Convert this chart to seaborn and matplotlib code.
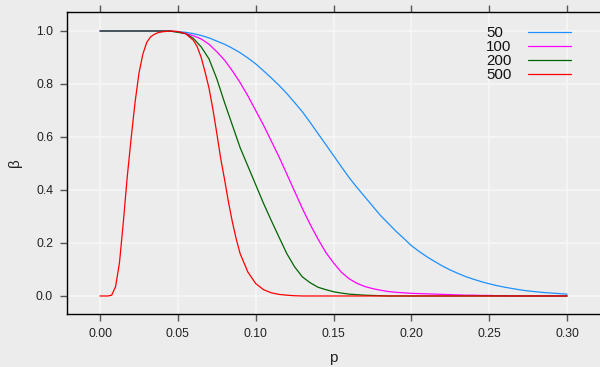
import numpy as np
import pandas as pd
import matplotlib
matplotlib.use("Agg")
import matplotlib.pyplot as plt
import seaborn as sns

# OC curves: beta against p for four sample sizes
sizes = ["50", "100", "200", "500"]
colors = ["#1E90FF", "#FF00FF", "#006400", "#FF0000"]

p_grid = np.round(np.arange(0, 0.3001, 0.005), 3)  # 0.000 ... 0.300

beta_50 = [1, 1, 1, 1, 1, 1, 1, 1, 1, 0.999, 0.998,
           0.995, 0.99, 0.983, 0.974, 0.962, 0.95, 0.935, 0.918, 0.898, 0.876,
           0.85, 0.823, 0.795, 0.764, 0.73, 0.695, 0.655, 0.613, 0.572, 0.53,
           0.488, 0.447, 0.41, 0.375, 0.34, 0.305, 0.275, 0.245, 0.218, 0.19,
           0.168, 0.148, 0.13, 0.113, 0.098, 0.085, 0.073, 0.063, 0.054, 0.046,
           0.039, 0.033, 0.028, 0.023, 0.019, 0.016, 0.013, 0.011, 0.009, 0.007]

beta_100 = [1, 1, 1, 1, 1, 1, 1, 1, 1, 0.999, 0.997,
            0.99, 0.982, 0.97, 0.95, 0.922, 0.89, 0.85, 0.805, 0.755, 0.70,
            0.645, 0.585, 0.525, 0.46, 0.395, 0.33, 0.27, 0.215, 0.165, 0.125,
            0.09, 0.065, 0.048, 0.036, 0.028, 0.022, 0.017, 0.014, 0.012, 0.010,
            0.009, 0.008, 0.007, 0.006, 0.005, 0.004, 0.003, 0.003, 0.002, 0.002,
            0.001, 0.001, 0, 0, 0, 0, 0, 0, 0, 0]

beta_200 = [1, 1, 1, 1, 1, 1, 1, 1, 1, 1, 0.995,
            0.99, 0.972, 0.94, 0.895, 0.82, 0.73, 0.645, 0.56, 0.49, 0.42,
            0.35, 0.285, 0.222, 0.16, 0.11, 0.072, 0.05, 0.033, 0.024, 0.016,
            0.011, 0.007, 0.005, 0.003, 0.002, 0.001, 0, 0, 0, 0,
            0, 0, 0, 0, 0, 0, 0, 0, 0, 0,
            0, 0, 0, 0, 0, 0, 0, 0, 0, 0]

p_500 = [0, 0.005, 0.0075, 0.01, 0.0125, 0.015, 0.0175, 0.02, 0.0225, 0.025,
         0.0275, 0.03, 0.0325, 0.035, 0.0375, 0.04, 0.045, 0.05, 0.055, 0.06,
         0.0625, 0.065, 0.0675, 0.07, 0.0725, 0.075, 0.0775, 0.08, 0.0825, 0.085,
         0.0875, 0.09, 0.095, 0.10, 0.105, 0.11, 0.115, 0.12, 0.125, 0.13, 0.30]
beta_500 = [0, 0, 0.003, 0.035, 0.125, 0.28, 0.45, 0.595, 0.73, 0.84,
            0.912, 0.957, 0.978, 0.988, 0.994, 0.997, 1.0, 0.998, 0.99, 0.965,
            0.94, 0.90, 0.845, 0.785, 0.705, 0.615, 0.52, 0.44, 0.355, 0.28,
            0.215, 0.16, 0.09, 0.047, 0.024, 0.012, 0.006, 0.003, 0.001, 0, 0]

frames = []
for n, p, b in zip(sizes, [p_grid, p_grid, p_grid, p_500],
                   [beta_50, beta_100, beta_200, beta_500]):
    frames.append(pd.DataFrame({"p": p, "beta": b, "n": n}))
df = pd.concat(frames, ignore_index=True)

sns.set_style("white")
plt.rcParams["font.family"] = ["Liberation Sans", "DejaVu Sans"]

bg = "#ececec"
fig = plt.figure(figsize=(6, 3.67), dpi=100, facecolor=bg)
ax = fig.add_axes([67 / 600, 53 / 367, 543 / 600, 302 / 367])
ax.set_facecolor("none")

sns.lineplot(data=df, x="p", y="beta", hue="n", hue_order=sizes,
             palette=dict(zip(sizes, colors)), estimator=None, sort=False,
             linewidth=0.9, legend=False, ax=ax)

ax.set_xlim(-0.0212, 0.3276)
ax.set_ylim(-0.068, 1.0717)
xt = [0, 0.05, 0.10, 0.15, 0.20, 0.25, 0.30]
ax.set_xticks(xt)
ax.set_xticklabels([f"{v:.2f}" for v in xt])
yt = [0, 0.2, 0.4, 0.6, 0.8, 1.0]
ax.set_yticks(yt)
ax.set_yticklabels([f"{v:.1f}" for v in yt])

ax.grid(True, color="#f6f6f6", linewidth=1.2)
ax.set_axisbelow(True)
for side in ["left", "bottom", "top"]:
    ax.spines[side].set_visible(True)
    ax.spines[side].set_color("black")
    ax.spines[side].set_linewidth(1)
ax.spines["right"].set_visible(False)

ax.tick_params(axis="both", direction="out", length=5, width=1, color="#555555",
               labelsize=8.8, labelcolor="#222222", pad=5, top=True,
               labeltop=False, bottom=True, left=True)

ax.set_xlabel("p", fontsize=11, color="#222222")
ax.set_ylabel("β", fontsize=11, color="#222222")
ax.xaxis.set_label_coords(0.49, -0.122)
ax.yaxis.set_label_coords(-0.082, 0.5)

leg = ax.legend(ax.lines, sizes, loc="upper left", markerfirst=False,
                frameon=False, fontsize=10.8, handlelength=2.9,
                handletextpad=1.1, labelspacing=0.0, borderpad=0,
                borderaxespad=0, bbox_to_anchor=(486 / 600, 1 - 26 / 367),
                bbox_transform=fig.transFigure)
for t in leg.get_texts():
    t.set_color("#111111")

# labels left-aligned: widen the gap after the shorter labels
fig.canvas.draw()
renderer = fig.canvas.get_renderer()
widths = [t.get_window_extent(renderer).width for t in leg.get_texts()]
rows = leg._legend_handle_box.get_children()[0].get_children()
for row, w in zip(rows, widths):
    row.sep = row.sep + (max(widths) - w) * 72 / fig.dpi

fig.savefig("out.png", dpi=100, facecolor=bg)
